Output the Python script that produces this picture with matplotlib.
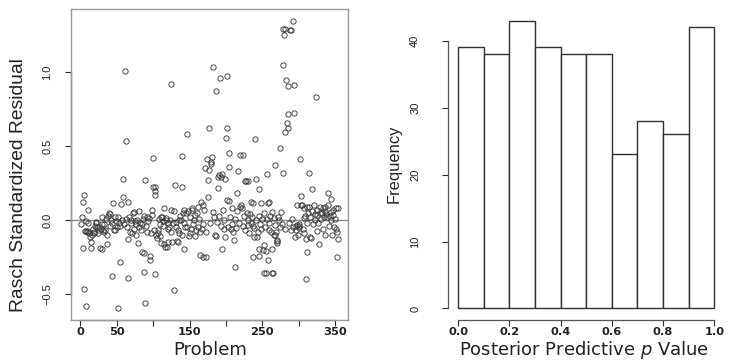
import matplotlib

matplotlib.use("Agg")
import matplotlib.pyplot as plt
import matplotlib.transforms as mtransforms

# residual per problem (grouped by 50-problem blocks)
problem = [
    3, 5, 10, 4, 5, 7, 13, 14, 15, 27,
    29, 36, 44, 45, 1, 2, 6, 7, 8, 9,
    10, 11, 12, 16, 17, 18, 19, 20, 21, 22,
    23, 24, 25, 26, 28, 29, 30, 31, 32, 33,
    34, 35, 37, 38, 39, 40, 41, 42, 43, 46,
    47, 48, 49, 50,
    51, 55, 56, 58, 59, 61, 62, 65, 65, 66,
    79, 84, 87, 88, 89, 89, 95, 96, 98, 100,
    100,
    52, 53, 54, 57, 60, 63, 64, 67, 68, 69,
    70, 71, 72, 73, 74, 75, 76, 77, 78, 80,
    81, 82, 83, 85, 86, 88, 90, 91, 92, 93,
    94, 97, 99,
    102, 103, 103, 102, 116, 119, 125, 126, 128, 130,
    133, 139, 139, 142, 146, 149,
    101, 104, 105, 106, 107, 108, 109, 110, 111, 112,
    113, 114, 115, 117, 118, 120, 121, 122, 123, 124,
    125, 127, 129, 131, 132, 134, 135, 136, 137, 138,
    140, 141, 142, 143, 144, 145, 147, 148, 150,
    115, 120, 111, 134,
    157, 165, 166, 168, 168, 171, 173, 174, 175, 176,
    177, 177, 179, 180, 181, 183, 186, 187, 189, 189,
    191, 192, 193, 195, 195, 199, 199, 200,
    151, 152, 153, 154, 155, 156, 158, 159, 160, 161,
    162, 163, 164, 167, 169, 170, 172, 178, 182, 184,
    185, 188, 190, 194, 196, 197, 198,
    201, 202, 202, 204, 205, 205, 211, 212, 216, 217,
    220, 224, 226, 228, 230, 237, 237, 240, 242, 243,
    245, 245, 245, 248,
    203, 206, 207, 208, 209, 210, 213, 214, 215, 218,
    219, 221, 222, 223, 225, 227, 229, 230, 231, 232,
    233, 234, 235, 236, 238, 239, 241, 244, 246, 247,
    249, 250, 239,
    251, 252, 255, 255, 256, 258, 258, 263, 263, 265,
    268, 270, 271, 274, 278, 279, 279, 280, 282, 282,
    283, 284, 285, 286, 286, 288, 290, 292, 294, 294,
    295,
    253, 254, 257, 259, 259, 260, 261, 262, 264, 266,
    267, 268, 269, 272, 273, 275, 276, 277, 281, 287,
    289, 291, 293, 296, 297, 298, 299, 300, 300, 298,
    252, 266, 271,
    302, 304, 310, 310, 311, 315, 317, 319, 324, 325,
    328, 340, 344, 353, 354,
    301, 303, 305, 306, 307, 307, 308, 309, 311, 312,
    313, 314, 316, 316, 318, 320, 321, 322, 323, 325,
    326, 327, 329, 330, 331, 332, 333, 334, 335, 336,
    337, 337, 338, 339, 341, 342, 343, 344, 345, 346,
    347, 348, 349, 350, 351, 352, 353, 354,
]

residual = [
    0.124, 0.169, 0.070, -0.189, -0.468, -0.581, -0.117, -0.146, -0.191, -0.189,
    -0.198, -0.162, -0.378, 0.115, -0.03, 0.02, -0.075, -0.072, -0.005, -0.08,
    -0.018, -0.072, -0.09, -0.10, -0.06, -0.08, -0.09, -0.04, -0.02, -0.011,
    -0.05, -0.09, -0.045, -0.07, -0.06, 0.023, -0.03, -0.068, -0.08, -0.03,
    -0.07, 0.01, -0.10, 0.03, 0.045, -0.04, 0.04, 0.0, -0.02, -0.07,
    -0.068, 0.02, -0.01, -0.05,
    -0.597, -0.286, 0.108, 0.277, 0.158, 1.009, 0.536, -0.39, -0.131, 0.122,
    -0.153, -0.216, -0.221, -0.354, -0.559, 0.273, -0.27, -0.241, 0.068, 0.225,
    0.417,
    0.023, -0.02, -0.04, 0.0, -0.03, 0.01, -0.05, 0.02, -0.08, 0.0,
    -0.02, -0.09, 0.05, 0.056, -0.06, -0.01, -0.03, -0.10, 0.0, 0.063,
    -0.05, -0.02, -0.07, -0.03, 0.01, 0.03, -0.04, 0.023, -0.08, -0.007,
    0.011, -0.09, 0.034,
    0.169, 0.22, 0.198, -0.363, -0.18, -0.18, 0.921, -0.151, -0.475, 0.236,
    -0.14, 0.223, 0.432, -0.194, 0.581, -0.11,
    -0.07, -0.10, -0.12, -0.068, -0.09, 0.01, -0.03, -0.11, 0.023, 0.02,
    -0.04, -0.009, -0.16, 0.0, 0.011, -0.023, -0.06, -0.045, 0.0, -0.08,
    0.068, -0.02, 0.063, -0.05, -0.011, -0.068, 0.0, -0.09, 0.03, 0.0,
    -0.10, 0.05, 0.068, -0.02, -0.05, 0.045, -0.045, 0.06, -0.09,
    0.079, -0.146, -0.158, -0.146,
    -0.11, -0.239, 0.122, -0.252, 0.104, 0.354, -0.248, 0.414, 0.158, 0.27,
    0.338, 0.622, 0.39, 0.38, 0.423, 1.036, -0.106, 0.869, 0.293, 0.214,
    0.306, 0.959, 0.293, 0.31, -0.194, 0.279, -0.117, 0.556,
    0.02, -0.06, 0.07, 0.079, -0.03, 0.0, 0.034, -0.07, 0.05, 0.09,
    -0.05, 0.01, -0.08, -0.06, -0.03, 0.067, -0.079, -0.02, 0.056, 0.022,
    -0.10, -0.011, 0.03, -0.04, 0.067, 0.0, -0.06,
    0.622, 0.973, 0.135, 0.131, 0.45, 0.356, -0.135, -0.32, 0.18, 0.333,
    0.441, 0.441, 0.264, 0.264, 0.264, -0.25, 0.117, 0.55, 0.275, -0.117,
    -0.243, -0.198, 0.207, 0.117,
    -0.05, 0.02, -0.06, -0.03, 0.079, -0.08, 0.01, -0.056, 0.06, -0.022,
    0.09, 0.10, 0.079, -0.04, 0.03, -0.07, 0.05, -0.034, 0.0, -0.09,
    0.04, 0.123, -0.02, 0.02, -0.04, -0.056, 0.0, -0.08, 0.03, -0.03,
    -0.06, 0.01, -0.113,
    -0.203, -0.36, -0.36, -0.212, 0.311, 0.117, -0.268, -0.194, -0.36, -0.36,
    0.369, -0.14, -0.158, 0.484, 1.288, 1.047, 0.315, 1.248, 1.288, 0.597,
    0.946, 0.658, 0.619, 0.905, 0.714, 1.284, 1.284, 1.347, 0.914, 0.725,
    -0.117,
    0.045, -0.05, 0.01, 0.12, -0.068, -0.02, 0.03, -0.08, 0.052, 0.011,
    -0.10, -0.034, -0.079, 0.02, 0.0, -0.05, 0.052, -0.03, -0.06, -0.02,
    -0.07, 0.01, -0.05, -0.07, -0.04, -0.034, -0.10, -0.056, -0.03, 0.10,
    -0.169, -0.10, -0.135,
    0.414, 0.162, -0.401, -0.131, -0.214, 0.315, -0.119, 0.207, 0.829, -0.074,
    -0.164, 0.18, 0.14, -0.248, -0.131,
    -0.04, 0.10, 0.101, -0.06, 0.079, 0.011, -0.09, 0.03, 0.09, -0.02,
    0.05, 0.09, 0.022, -0.113, 0.06, -0.03, 0.10, 0.04, 0.0, 0.034,
    0.07, -0.02, 0.05, 0.09, 0.01, 0.045, -0.06, 0.08, 0.02, 0.06,
    -0.10, 0.09, 0.04, 0.022, 0.10, -0.04, 0.03, 0.056, 0.0, -0.10,
    0.07, 0.034, -0.05, 0.01, 0.079, -0.06, -0.079, 0.08,
]

# histogram of posterior predictive p values
bin_edges = [0.0, 0.1, 0.2, 0.3, 0.4, 0.5, 0.6, 0.7, 0.8, 0.9, 1.0]
counts = [39, 38, 43, 39, 38, 38, 23, 28, 26, 42]

scatter_xticks = [0, 50, 100, 150, 200, 250, 300, 350]
scatter_xlabels = ["0", "50", "", "150", "", "250", "", "350"]
scatter_yticks = [-0.5, 0.0, 0.5, 1.0]
scatter_ylabels = ["\u22120.5", "0.0", "0.5", "1.0"]
hist_xticks = [0.0, 0.2, 0.4, 0.6, 0.8, 1.0]
hist_xlabels = ["0.0", "0.2", "0.4", "0.6", "0.8", "1.0"]
hist_yticks = [0, 10, 20, 30, 40]

W, H = 735, 360
BOX = "#9a9a9a"
INK = "#2b2b2b"
SANS = ["Liberation Sans", "DejaVu Sans"]


def main() -> None:
    fig = plt.figure(figsize=(W / 100, H / 100), dpi=100)

    ax1 = fig.add_axes([71 / W, 1 - 320 / H, 277 / W, 311 / H])
    ax2 = fig.add_axes([448 / W, 1 - 320 / H, 276.5 / W, 311 / H])

    plot_residuals(ax1)
    plot_histogram(ax2)

    fig.text(19 / W, 1 - 185 / H, "Rasch Standardized Residual", rotation=90,
             ha="center", va="center", fontsize=13.9, family=SANS, color="#222")
    fig.text(394 / W, 1 - 164 / H, "Frequency", rotation=90,
             ha="center", va="center", fontsize=11.9, family=SANS, color="#222")
    fig.text(210 / W, 1 - 355 / H, "Problem", ha="center", va="baseline",
             fontsize=13, family="DejaVu Sans", color="#222")
    fig.text(584 / W, 1 - 355 / H, "Posterior Predictive $\\mathit{p}$ Value",
             ha="center", va="baseline", fontsize=13, family="DejaVu Sans",
             color="#222")

    fig.savefig("out.png", dpi=100)
    plt.close(fig)


def style_ticks(ax, ypad) -> None:
    ax.tick_params(axis="both", direction="out", length=4.0, width=0.8, color=INK)
    ax.tick_params(axis="x", pad=1.0)
    ax.tick_params(axis="y", pad=ypad)
    for label in ax.get_xticklabels():
        label.set_fontfamily("DejaVu Sans")
        label.set_fontweight("bold")
        label.set_fontsize(8.2)
        label.set_color("#222")
    for label in ax.get_yticklabels():
        label.set_fontfamily("Liberation Sans")
        label.set_fontsize(8)
        label.set_rotation(90)
        label.set_va("center")
        label.set_color("#222")


def plot_residuals(ax) -> None:
    ax.plot(problem, residual, linestyle="none", marker="o", markersize=3.8,
            markerfacecolor="none", markeredgecolor="#3a3a3a",
            markeredgewidth=0.65)
    ax.axhline(0.0, color="#8c8c8c", linewidth=1.0, zorder=0)

    ax.set_xlim(-13, 368)
    ax.set_ylim(-0.676, 1.426)
    ax.set_xticks(scatter_xticks)
    ax.set_xticklabels(scatter_xlabels)
    ax.set_yticks(scatter_yticks)
    ax.set_yticklabels(scatter_ylabels)

    for spine in ax.spines.values():
        spine.set_color(BOX)
        spine.set_linewidth(1.0)

    # R style axis lines spanning the tick range
    ty = mtransforms.blended_transform_factory(ax.transAxes, ax.transData)
    tx = mtransforms.blended_transform_factory(ax.transData, ax.transAxes)
    ax.plot([0, 0], [scatter_yticks[0], scatter_yticks[-1]], transform=ty,
            color=INK, linewidth=0.9, clip_on=False)
    ax.plot([scatter_xticks[0], scatter_xticks[-1]], [0, 0], transform=tx,
            color=INK, linewidth=0.9, clip_on=False)

    style_ticks(ax, ypad=9.4)


def plot_histogram(ax) -> None:
    widths = [b - a for a, b in zip(bin_edges[:-1], bin_edges[1:])]
    ax.bar(bin_edges[:-1], counts, width=widths, align="edge",
           color="white", edgecolor="#303030", linewidth=1.0)

    ax.set_xlim(-0.04, 1.04)
    ax.set_ylim(-1.72, 44.72)
    ax.set_xticks(hist_xticks)
    ax.set_xticklabels(hist_xlabels)
    ax.set_yticks(hist_yticks)

    ax.spines["top"].set_visible(False)
    ax.spines["right"].set_visible(False)
    ax.spines["left"].set_bounds(hist_yticks[0], hist_yticks[-1])
    ax.spines["bottom"].set_bounds(hist_xticks[0], hist_xticks[-1])
    for side in ("left", "bottom"):
        ax.spines[side].set_color("#555555")
        ax.spines[side].set_linewidth(0.9)

    style_ticks(ax, ypad=16)


if __name__ == "__main__":
    main()
